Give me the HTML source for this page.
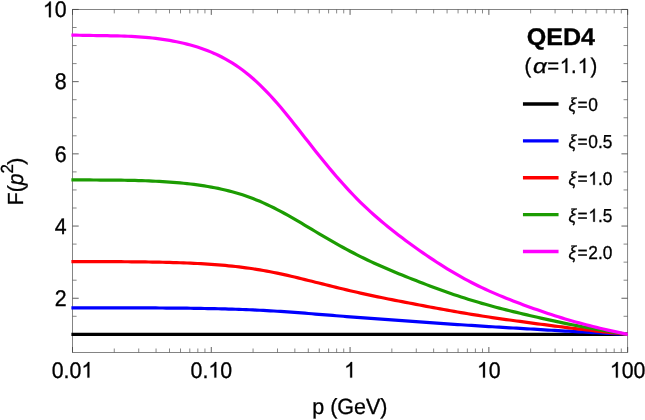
<!DOCTYPE html>
<html><head><meta charset="utf-8"><title>QED4</title>
<style>
html,body{margin:0;padding:0;background:#fff;}
body{width:645px;height:420px;overflow:hidden;font-family:"Liberation Sans",sans-serif;}
.M{stroke:#444;stroke-width:0.85}
svg{display:block;text-rendering:geometricPrecision;font-family:"Liberation Sans",sans-serif;}
</style></head><body>
<svg style="will-change:transform" width="645" height="420" viewBox="0 0 645 420">
<rect width="645" height="420" fill="#fff"/>
<rect x="72.5" y="9.5" width="555.15" height="342.90" fill="none" stroke="#666" stroke-width="0.8"/>
<g fill="none" stroke="#555" stroke-width="0.7">
<path class="M" d="M72.50,352.4 v-5.4 M72.50,9.5 v5.4"/>
<path d="M114.28,352.4 v-3.9 M114.28,9.5 v3.9"/>
<path d="M138.72,352.4 v-3.9 M138.72,9.5 v3.9"/>
<path d="M156.06,352.4 v-3.9 M156.06,9.5 v3.9"/>
<path d="M169.51,352.4 v-3.9 M169.51,9.5 v3.9"/>
<path d="M180.50,352.4 v-3.9 M180.50,9.5 v3.9"/>
<path d="M189.79,352.4 v-3.9 M189.79,9.5 v3.9"/>
<path d="M197.84,352.4 v-3.9 M197.84,9.5 v3.9"/>
<path d="M204.94,352.4 v-3.9 M204.94,9.5 v3.9"/>
<path class="M" d="M211.29,352.4 v-5.4 M211.29,9.5 v5.4"/>
<path d="M253.07,352.4 v-3.9 M253.07,9.5 v3.9"/>
<path d="M277.51,352.4 v-3.9 M277.51,9.5 v3.9"/>
<path d="M294.85,352.4 v-3.9 M294.85,9.5 v3.9"/>
<path d="M308.30,352.4 v-3.9 M308.30,9.5 v3.9"/>
<path d="M319.29,352.4 v-3.9 M319.29,9.5 v3.9"/>
<path d="M328.58,352.4 v-3.9 M328.58,9.5 v3.9"/>
<path d="M336.63,352.4 v-3.9 M336.63,9.5 v3.9"/>
<path d="M343.72,352.4 v-3.9 M343.72,9.5 v3.9"/>
<path class="M" d="M350.07,352.4 v-5.4 M350.07,9.5 v5.4"/>
<path d="M391.85,352.4 v-3.9 M391.85,9.5 v3.9"/>
<path d="M416.29,352.4 v-3.9 M416.29,9.5 v3.9"/>
<path d="M433.63,352.4 v-3.9 M433.63,9.5 v3.9"/>
<path d="M447.08,352.4 v-3.9 M447.08,9.5 v3.9"/>
<path d="M458.07,352.4 v-3.9 M458.07,9.5 v3.9"/>
<path d="M467.36,352.4 v-3.9 M467.36,9.5 v3.9"/>
<path d="M475.41,352.4 v-3.9 M475.41,9.5 v3.9"/>
<path d="M482.51,352.4 v-3.9 M482.51,9.5 v3.9"/>
<path class="M" d="M488.86,352.4 v-5.4 M488.86,9.5 v5.4"/>
<path d="M530.64,352.4 v-3.9 M530.64,9.5 v3.9"/>
<path d="M555.08,352.4 v-3.9 M555.08,9.5 v3.9"/>
<path d="M572.42,352.4 v-3.9 M572.42,9.5 v3.9"/>
<path d="M585.87,352.4 v-3.9 M585.87,9.5 v3.9"/>
<path d="M596.86,352.4 v-3.9 M596.86,9.5 v3.9"/>
<path d="M606.15,352.4 v-3.9 M606.15,9.5 v3.9"/>
<path d="M614.20,352.4 v-3.9 M614.20,9.5 v3.9"/>
<path d="M621.30,352.4 v-3.9 M621.30,9.5 v3.9"/>
<path class="M" d="M627.65,352.4 v-5.4 M627.65,9.5 v5.4"/>
<path d="M72.5,334.35 h4.1 M627.65,334.35 h-4.1"/>
<path d="M72.5,316.30 h4.1 M627.65,316.30 h-4.1"/>
<path class="M" d="M72.5,298.25 h6.2 M627.65,298.25 h-6.2"/>
<path d="M72.5,280.20 h4.1 M627.65,280.20 h-4.1"/>
<path d="M72.5,262.15 h4.1 M627.65,262.15 h-4.1"/>
<path d="M72.5,244.10 h4.1 M627.65,244.10 h-4.1"/>
<path class="M" d="M72.5,226.05 h6.2 M627.65,226.05 h-6.2"/>
<path d="M72.5,208.00 h4.1 M627.65,208.00 h-4.1"/>
<path d="M72.5,189.95 h4.1 M627.65,189.95 h-4.1"/>
<path d="M72.5,171.90 h4.1 M627.65,171.90 h-4.1"/>
<path class="M" d="M72.5,153.85 h6.2 M627.65,153.85 h-6.2"/>
<path d="M72.5,135.80 h4.1 M627.65,135.80 h-4.1"/>
<path d="M72.5,117.75 h4.1 M627.65,117.75 h-4.1"/>
<path d="M72.5,99.70 h4.1 M627.65,99.70 h-4.1"/>
<path class="M" d="M72.5,81.65 h6.2 M627.65,81.65 h-6.2"/>
<path d="M72.5,63.60 h4.1 M627.65,63.60 h-4.1"/>
<path d="M72.5,45.55 h4.1 M627.65,45.55 h-4.1"/>
<path d="M72.5,27.50 h4.1 M627.65,27.50 h-4.1"/>
<path class="M" d="M72.5,9.45 h6.2 M627.65,9.45 h-6.2"/>
</g>
<g fill="none" stroke-width="3.2" stroke-linecap="butt" stroke-linejoin="round">
<path d="M71.40,334.35 L72.50,334.35 L75.97,334.35 L79.44,334.35 L82.91,334.35 L86.38,334.35 L89.85,334.35 L93.32,334.35 L96.79,334.35 L100.26,334.35 L103.73,334.35 L107.20,334.35 L110.67,334.35 L114.14,334.35 L117.61,334.35 L121.08,334.35 L124.55,334.35 L128.01,334.35 L131.48,334.35 L134.95,334.35 L138.42,334.35 L141.89,334.35 L145.36,334.35 L148.83,334.35 L152.30,334.35 L155.77,334.35 L159.24,334.35 L162.71,334.35 L166.18,334.35 L169.65,334.35 L173.12,334.35 L176.59,334.35 L180.06,334.35 L183.53,334.35 L187.00,334.35 L190.47,334.35 L193.94,334.35 L197.41,334.35 L200.88,334.35 L204.35,334.35 L207.82,334.35 L211.29,334.35 L214.76,334.35 L218.23,334.35 L221.70,334.35 L225.17,334.35 L228.64,334.35 L232.11,334.35 L235.58,334.35 L239.05,334.35 L242.51,334.35 L245.98,334.35 L249.45,334.35 L252.92,334.35 L256.39,334.35 L259.86,334.35 L263.33,334.35 L266.80,334.35 L270.27,334.35 L273.74,334.35 L277.21,334.35 L280.68,334.35 L284.15,334.35 L287.62,334.35 L291.09,334.35 L294.56,334.35 L298.03,334.35 L301.50,334.35 L304.97,334.35 L308.44,334.35 L311.91,334.35 L315.38,334.35 L318.85,334.35 L322.32,334.35 L325.79,334.35 L329.26,334.35 L332.73,334.35 L336.20,334.35 L339.67,334.35 L343.14,334.35 L346.61,334.35 L350.07,334.35 L353.54,334.35 L357.01,334.35 L360.48,334.35 L363.95,334.35 L367.42,334.35 L370.89,334.35 L374.36,334.35 L377.83,334.35 L381.30,334.35 L384.77,334.35 L388.24,334.35 L391.71,334.35 L395.18,334.35 L398.65,334.35 L402.12,334.35 L405.59,334.35 L409.06,334.35 L412.53,334.35 L416.00,334.35 L419.47,334.35 L422.94,334.35 L426.41,334.35 L429.88,334.35 L433.35,334.35 L436.82,334.35 L440.29,334.35 L443.76,334.35 L447.23,334.35 L450.70,334.35 L454.17,334.35 L457.64,334.35 L461.11,334.35 L464.57,334.35 L468.04,334.35 L471.51,334.35 L474.98,334.35 L478.45,334.35 L481.92,334.35 L485.39,334.35 L488.86,334.35 L492.33,334.35 L495.80,334.35 L499.27,334.35 L502.74,334.35 L506.21,334.35 L509.68,334.35 L513.15,334.35 L516.62,334.35 L520.09,334.35 L523.56,334.35 L527.03,334.35 L530.50,334.35 L533.97,334.35 L537.44,334.35 L540.91,334.35 L544.38,334.35 L547.85,334.35 L551.32,334.35 L554.79,334.35 L558.26,334.35 L561.73,334.35 L565.20,334.35 L568.67,334.35 L572.13,334.35 L575.60,334.35 L579.07,334.35 L582.54,334.35 L586.01,334.35 L589.48,334.35 L592.95,334.35 L596.42,334.35 L599.89,334.35 L603.36,334.35 L606.83,334.35 L610.30,334.35 L613.77,334.35 L617.24,334.35 L620.71,334.35 L624.18,334.35 L627.65,334.35 L627.75,334.35" stroke="#000000"/>
<path d="M71.40,307.80 L72.50,307.80 L75.97,307.81 L79.44,307.81 L82.91,307.81 L86.38,307.82 L89.85,307.82 L93.32,307.82 L96.79,307.83 L100.26,307.83 L103.73,307.83 L107.20,307.83 L110.67,307.84 L114.14,307.84 L117.61,307.84 L121.08,307.85 L124.55,307.85 L128.01,307.86 L131.48,307.87 L134.95,307.87 L138.42,307.88 L141.89,307.90 L145.36,307.91 L148.83,307.92 L152.30,307.94 L155.77,307.96 L159.24,307.98 L162.71,308.00 L166.18,308.03 L169.65,308.05 L173.12,308.08 L176.59,308.11 L180.06,308.15 L183.53,308.18 L187.00,308.22 L190.47,308.27 L193.94,308.31 L197.41,308.36 L200.88,308.42 L204.35,308.48 L207.82,308.54 L211.29,308.61 L214.76,308.68 L218.23,308.76 L221.70,308.84 L225.17,308.93 L228.64,309.03 L232.11,309.13 L235.58,309.24 L239.05,309.36 L242.51,309.48 L245.98,309.62 L249.45,309.76 L252.92,309.91 L256.39,310.07 L259.86,310.24 L263.33,310.42 L266.80,310.61 L270.27,310.81 L273.74,311.01 L277.21,311.23 L280.68,311.45 L284.15,311.68 L287.62,311.92 L291.09,312.17 L294.56,312.42 L298.03,312.68 L301.50,312.94 L304.97,313.21 L308.44,313.48 L311.91,313.76 L315.38,314.03 L318.85,314.31 L322.32,314.59 L325.79,314.87 L329.26,315.15 L332.73,315.44 L336.20,315.72 L339.67,316.00 L343.14,316.27 L346.61,316.55 L350.07,316.82 L353.54,317.10 L357.01,317.37 L360.48,317.63 L363.95,317.90 L367.42,318.16 L370.89,318.41 L374.36,318.67 L377.83,318.92 L381.30,319.17 L384.77,319.42 L388.24,319.67 L391.71,319.92 L395.18,320.16 L398.65,320.41 L402.12,320.65 L405.59,320.89 L409.06,321.14 L412.53,321.38 L416.00,321.62 L419.47,321.87 L422.94,322.11 L426.41,322.35 L429.88,322.60 L433.35,322.84 L436.82,323.09 L440.29,323.33 L443.76,323.58 L447.23,323.82 L450.70,324.06 L454.17,324.30 L457.64,324.53 L461.11,324.77 L464.57,325.00 L468.04,325.23 L471.51,325.45 L474.98,325.68 L478.45,325.90 L481.92,326.12 L485.39,326.34 L488.86,326.55 L492.33,326.77 L495.80,326.98 L499.27,327.18 L502.74,327.39 L506.21,327.60 L509.68,327.80 L513.15,328.00 L516.62,328.20 L520.09,328.41 L523.56,328.61 L527.03,328.81 L530.50,329.01 L533.97,329.21 L537.44,329.42 L540.91,329.62 L544.38,329.82 L547.85,330.03 L551.32,330.23 L554.79,330.43 L558.26,330.63 L561.73,330.83 L565.20,331.03 L568.67,331.22 L572.13,331.42 L575.60,331.61 L579.07,331.80 L582.54,331.99 L586.01,332.18 L589.48,332.37 L592.95,332.55 L596.42,332.74 L599.89,332.92 L603.36,333.10 L606.83,333.28 L610.30,333.46 L613.77,333.64 L617.24,333.82 L620.71,334.00 L624.18,334.17 L627.65,334.35 L627.75,334.35" stroke="#0000ff"/>
<path d="M71.40,261.56 L72.50,261.56 L75.97,261.58 L79.44,261.59 L82.91,261.60 L86.38,261.62 L89.85,261.63 L93.32,261.63 L96.79,261.64 L100.26,261.65 L103.73,261.66 L107.20,261.67 L110.67,261.68 L114.14,261.69 L117.61,261.70 L121.08,261.72 L124.55,261.73 L128.01,261.76 L131.48,261.78 L134.95,261.81 L138.42,261.85 L141.89,261.89 L145.36,261.93 L148.83,261.98 L152.30,262.04 L155.77,262.11 L159.24,262.18 L162.71,262.25 L166.18,262.34 L169.65,262.43 L173.12,262.53 L176.59,262.64 L180.06,262.76 L183.53,262.89 L187.00,263.02 L190.47,263.17 L193.94,263.33 L197.41,263.51 L200.88,263.69 L204.35,263.89 L207.82,264.11 L211.29,264.35 L214.76,264.60 L218.23,264.86 L221.70,265.15 L225.17,265.46 L228.64,265.79 L232.11,266.14 L235.58,266.51 L239.05,266.91 L242.51,267.34 L245.98,267.79 L249.45,268.28 L252.92,268.79 L256.39,269.33 L259.86,269.89 L263.33,270.49 L266.80,271.12 L270.27,271.77 L273.74,272.45 L277.21,273.16 L280.68,273.89 L284.15,274.65 L287.62,275.43 L291.09,276.23 L294.56,277.05 L298.03,277.88 L301.50,278.73 L304.97,279.58 L308.44,280.44 L311.91,281.31 L315.38,282.18 L318.85,283.05 L322.32,283.92 L325.79,284.79 L329.26,285.65 L332.73,286.51 L336.20,287.37 L339.67,288.21 L343.14,289.05 L346.61,289.88 L350.07,290.70 L353.54,291.51 L357.01,292.30 L360.48,293.09 L363.95,293.86 L367.42,294.62 L370.89,295.37 L374.36,296.10 L377.83,296.83 L381.30,297.54 L384.77,298.25 L388.24,298.95 L391.71,299.64 L395.18,300.33 L398.65,301.01 L402.12,301.69 L405.59,302.36 L409.06,303.02 L412.53,303.69 L416.00,304.35 L419.47,305.01 L422.94,305.67 L426.41,306.32 L429.88,306.97 L433.35,307.62 L436.82,308.27 L440.29,308.91 L443.76,309.54 L447.23,310.17 L450.70,310.79 L454.17,311.40 L457.64,312.01 L461.11,312.60 L464.57,313.19 L468.04,313.77 L471.51,314.33 L474.98,314.89 L478.45,315.44 L481.92,315.98 L485.39,316.52 L488.86,317.04 L492.33,317.56 L495.80,318.07 L499.27,318.57 L502.74,319.06 L506.21,319.55 L509.68,320.04 L513.15,320.52 L516.62,320.99 L520.09,321.46 L523.56,321.93 L527.03,322.40 L530.50,322.87 L533.97,323.33 L537.44,323.79 L540.91,324.25 L544.38,324.71 L547.85,325.17 L551.32,325.62 L554.79,326.07 L558.26,326.51 L561.73,326.95 L565.20,327.39 L568.67,327.82 L572.13,328.24 L575.60,328.66 L579.07,329.07 L582.54,329.47 L586.01,329.87 L589.48,330.27 L592.95,330.66 L596.42,331.04 L599.89,331.42 L603.36,331.80 L606.83,332.18 L610.30,332.55 L613.77,332.91 L617.24,333.28 L620.71,333.64 L624.18,334.00 L627.65,334.35 L627.75,334.35" stroke="#ff0000"/>
<path d="M71.40,179.78 L72.50,179.78 L75.97,179.83 L79.44,179.87 L82.91,179.91 L86.38,179.94 L89.85,179.96 L93.32,179.99 L96.79,180.01 L100.26,180.03 L103.73,180.05 L107.20,180.07 L110.67,180.10 L114.14,180.13 L117.61,180.16 L121.08,180.20 L124.55,180.25 L128.01,180.31 L131.48,180.37 L134.95,180.45 L138.42,180.54 L141.89,180.65 L145.36,180.77 L148.83,180.90 L152.30,181.06 L155.77,181.23 L159.24,181.41 L162.71,181.62 L166.18,181.84 L169.65,182.08 L173.12,182.35 L176.59,182.63 L180.06,182.94 L183.53,183.28 L187.00,183.64 L190.47,184.03 L193.94,184.45 L197.41,184.90 L200.88,185.39 L204.35,185.92 L207.82,186.48 L211.29,187.09 L214.76,187.75 L218.23,188.44 L221.70,189.19 L225.17,189.99 L228.64,190.84 L232.11,191.75 L235.58,192.71 L239.05,193.74 L242.51,194.84 L245.98,196.00 L249.45,197.23 L252.92,198.54 L256.39,199.91 L259.86,201.35 L263.33,202.86 L266.80,204.44 L270.27,206.08 L273.74,207.80 L277.21,209.57 L280.68,211.39 L284.15,213.26 L287.62,215.19 L291.09,217.16 L294.56,219.16 L298.03,221.19 L301.50,223.23 L304.97,225.29 L308.44,227.36 L311.91,229.43 L315.38,231.50 L318.85,233.56 L322.32,235.61 L325.79,237.65 L329.26,239.66 L332.73,241.66 L336.20,243.63 L339.67,245.57 L343.14,247.49 L346.61,249.37 L350.07,251.22 L353.54,253.04 L357.01,254.82 L360.48,256.57 L363.95,258.28 L367.42,259.94 L370.89,261.58 L374.36,263.19 L377.83,264.76 L381.30,266.31 L384.77,267.82 L388.24,269.32 L391.71,270.79 L395.18,272.24 L398.65,273.68 L402.12,275.09 L405.59,276.49 L409.06,277.88 L412.53,279.25 L416.00,280.61 L419.47,281.96 L422.94,283.29 L426.41,284.62 L429.88,285.93 L433.35,287.23 L436.82,288.51 L440.29,289.78 L443.76,291.03 L447.23,292.26 L450.70,293.47 L454.17,294.66 L457.64,295.82 L461.11,296.97 L464.57,298.09 L468.04,299.18 L471.51,300.25 L474.98,301.31 L478.45,302.34 L481.92,303.35 L485.39,304.33 L488.86,305.30 L492.33,306.25 L495.80,307.18 L499.27,308.09 L502.74,308.98 L506.21,309.86 L509.68,310.73 L513.15,311.58 L516.62,312.42 L520.09,313.26 L523.56,314.08 L527.03,314.90 L530.50,315.71 L533.97,316.51 L537.44,317.31 L540.91,318.10 L544.38,318.88 L547.85,319.65 L551.32,320.41 L554.79,321.17 L558.26,321.91 L561.73,322.64 L565.20,323.36 L568.67,324.06 L572.13,324.76 L575.60,325.44 L579.07,326.10 L582.54,326.75 L586.01,327.40 L589.48,328.02 L592.95,328.64 L596.42,329.25 L599.89,329.85 L603.36,330.44 L606.83,331.02 L610.30,331.60 L613.77,332.16 L617.24,332.72 L620.71,333.27 L624.18,333.81 L627.65,334.35 L627.75,334.35" stroke="#1c9c02"/>
<path d="M71.40,35.03 L72.50,35.03 L75.97,35.14 L79.44,35.24 L82.91,35.32 L86.38,35.39 L89.85,35.45 L93.32,35.51 L96.79,35.56 L100.26,35.61 L103.73,35.66 L107.20,35.72 L110.67,35.78 L114.14,35.85 L117.61,35.93 L121.08,36.02 L124.55,36.13 L128.01,36.26 L131.48,36.42 L134.95,36.60 L138.42,36.82 L141.89,37.06 L145.36,37.35 L148.83,37.67 L152.30,38.03 L155.77,38.43 L159.24,38.87 L162.71,39.35 L166.18,39.87 L169.65,40.44 L173.12,41.06 L176.59,41.73 L180.06,42.46 L183.53,43.24 L187.00,44.08 L190.47,44.99 L193.94,45.98 L197.41,47.04 L200.88,48.17 L204.35,49.40 L207.82,50.73 L211.29,52.14 L214.76,53.66 L218.23,55.28 L221.70,57.01 L225.17,58.86 L228.64,60.83 L232.11,62.92 L235.58,65.14 L239.05,67.51 L242.51,70.02 L245.98,72.68 L249.45,75.50 L252.92,78.46 L256.39,81.58 L259.86,84.85 L263.33,88.27 L266.80,91.82 L270.27,95.51 L273.74,99.33 L277.21,103.29 L280.68,107.32 L284.15,111.47 L287.62,115.72 L291.09,120.03 L294.56,124.40 L298.03,128.81 L301.50,133.23 L304.97,137.67 L308.44,142.10 L311.91,146.51 L315.38,150.90 L318.85,155.25 L322.32,159.56 L325.79,163.81 L329.26,168.00 L332.73,172.13 L336.20,176.18 L339.67,180.16 L343.14,184.05 L346.61,187.87 L350.07,191.60 L353.54,195.24 L357.01,198.79 L360.48,202.26 L363.95,205.63 L367.42,208.90 L370.89,212.11 L374.36,215.22 L377.83,218.26 L381.30,221.24 L384.77,224.14 L388.24,226.99 L391.71,229.78 L395.18,232.52 L398.65,235.21 L402.12,237.85 L405.59,240.45 L409.06,243.01 L412.53,245.54 L416.00,248.03 L419.47,250.48 L422.94,252.90 L426.41,255.28 L429.88,257.64 L433.35,259.95 L436.82,262.23 L440.29,264.46 L443.76,266.66 L447.23,268.81 L450.70,270.91 L454.17,272.96 L457.64,274.97 L461.11,276.92 L464.57,278.83 L468.04,280.68 L471.51,282.48 L474.98,284.25 L478.45,285.96 L481.92,287.63 L485.39,289.26 L488.86,290.85 L492.33,292.39 L495.80,293.90 L499.27,295.37 L502.74,296.81 L506.21,298.22 L509.68,299.60 L513.15,300.95 L516.62,302.28 L520.09,303.59 L523.56,304.88 L527.03,306.15 L530.50,307.40 L533.97,308.64 L537.44,309.85 L540.91,311.06 L544.38,312.24 L547.85,313.41 L551.32,314.55 L554.79,315.67 L558.26,316.78 L561.73,317.85 L565.20,318.91 L568.67,319.94 L572.13,320.95 L575.60,321.93 L579.07,322.89 L582.54,323.83 L586.01,324.74 L589.48,325.64 L592.95,326.51 L596.42,327.36 L599.89,328.20 L603.36,329.02 L606.83,329.82 L610.30,330.61 L613.77,331.39 L617.24,332.15 L620.71,332.90 L624.18,333.63 L627.65,334.35 L627.75,334.35" stroke="#ff00ff"/>
</g>
<g font-size="21.35" fill="#000">
<g transform="translate(72.50,377.60) scale(1,1.06)" font-size="21.35" stroke="#000" stroke-width="0.3"><text x="-20.77" y="0">0.0</text><path transform="translate(8.90,0) scale(0.01042,-0.00998)" stroke-width="28.8" d="M763,0 L583,0 L583,1147 Q518,1085 412.5,1023 T223,930 L223,1104 Q372,1174 483.5,1273.5 T647,1472 L763,1472 Z"/></g>
<g transform="translate(211.29,377.60) scale(1,1.06)" font-size="21.35" stroke="#000" stroke-width="0.3"><text x="-20.77" y="0">0.</text><path transform="translate(-2.97,0) scale(0.01042,-0.00998)" stroke-width="28.8" d="M763,0 L583,0 L583,1147 Q518,1085 412.5,1023 T223,930 L223,1104 Q372,1174 483.5,1273.5 T647,1472 L763,1472 Z"/><text x="8.90" y="0">0</text></g>
<g transform="translate(350.07,377.60) scale(1,1.06)" font-size="21.35" stroke="#000" stroke-width="0.3"><path transform="translate(-5.94,0) scale(0.01042,-0.00998)" stroke-width="28.8" d="M763,0 L583,0 L583,1147 Q518,1085 412.5,1023 T223,930 L223,1104 Q372,1174 483.5,1273.5 T647,1472 L763,1472 Z"/></g>
<g transform="translate(488.86,377.60) scale(1,1.06)" font-size="21.35" stroke="#000" stroke-width="0.3"><path transform="translate(-11.87,0) scale(0.01042,-0.00998)" stroke-width="28.8" d="M763,0 L583,0 L583,1147 Q518,1085 412.5,1023 T223,930 L223,1104 Q372,1174 483.5,1273.5 T647,1472 L763,1472 Z"/><text x="0.00" y="0">0</text></g>
<g transform="translate(627.65,377.60) scale(1,1.06)" font-size="21.35" stroke="#000" stroke-width="0.3"><path transform="translate(-17.81,0) scale(0.01042,-0.00998)" stroke-width="28.8" d="M763,0 L583,0 L583,1147 Q518,1085 412.5,1023 T223,930 L223,1104 Q372,1174 483.5,1273.5 T647,1472 L763,1472 Z"/><text x="-5.94" y="0">00</text></g>
<g transform="translate(66.60,305.95) scale(1,1.06)" font-size="21.35" stroke="#000" stroke-width="0.3"><text x="-11.87" y="0">2</text></g>
<g transform="translate(66.60,233.75) scale(1,1.06)" font-size="21.35" stroke="#000" stroke-width="0.3"><text x="-11.87" y="0">4</text></g>
<g transform="translate(66.60,161.55) scale(1,1.06)" font-size="21.35" stroke="#000" stroke-width="0.3"><text x="-11.87" y="0">6</text></g>
<g transform="translate(66.60,89.35) scale(1,1.06)" font-size="21.35" stroke="#000" stroke-width="0.3"><text x="-11.87" y="0">8</text></g>
<g transform="translate(66.60,17.15) scale(1,1.06)" font-size="21.35" stroke="#000" stroke-width="0.3"><path transform="translate(-23.74,0) scale(0.01042,-0.00998)" stroke-width="28.8" d="M763,0 L583,0 L583,1147 Q518,1085 412.5,1023 T223,930 L223,1104 Q372,1174 483.5,1273.5 T647,1472 L763,1472 Z"/><text x="-11.87" y="0">0</text></g>

<text transform="translate(349.90,414.20) scale(1,1.025)" font-size="21.5" text-anchor="middle" stroke="#000" stroke-width="0.3">p (GeV)</text>

<text transform="translate(22.6,205.3) rotate(-90) scale(1,1.03)" text-anchor="start" font-size="21.2" stroke="#000" stroke-width="0.3">F(<tspan font-style="italic">p</tspan><tspan font-size="17" dy="-9.7">2</tspan><tspan dy="9.7" dx="-0.7">)</tspan></text>
</g>
<text transform="translate(560.80,44.90) scale(1.046,1)" font-size="24" text-anchor="middle" stroke="#000" stroke-width="0.3" font-weight="bold">QED4</text>

<text transform="translate(0.00,72.90) scale(1,1.05)" font-size="20.3" text-anchor="start" stroke="#000" stroke-width="0.3"><tspan x="524.59">(</tspan><tspan x="547.16">=</tspan><tspan x="571.1">.</tspan><tspan x="590.58">)</tspan></text>
<g transform="translate(559.75,72.90) scale(1,1.05)" font-size="20.3" stroke="#000" stroke-width="0.3"><path transform="translate(0.00,0) scale(0.00991,-0.00949)" stroke-width="30.3" d="M763,0 L583,0 L583,1147 Q518,1085 412.5,1023 T223,930 L223,1104 Q372,1174 483.5,1273.5 T647,1472 L763,1472 Z"/></g>
<g transform="translate(577.70,72.90) scale(1,1.05)" font-size="20.3" stroke="#000" stroke-width="0.3"><path transform="translate(0.00,0) scale(0.00991,-0.00949)" stroke-width="30.3" d="M763,0 L583,0 L583,1147 Q518,1085 412.5,1023 T223,930 L223,1104 Q372,1174 483.5,1273.5 T647,1472 L763,1472 Z"/></g>
<text transform="translate(533.00,72.90) scale(1.2,1.0)" font-size="20.3" text-anchor="start" stroke="#000" stroke-width="0.3" font-style="italic">α</text>

<g fill="#000">
<path d="M522.95,104.05 H558.55" stroke="#000000" stroke-width="3.4" fill="none"/>
<text transform="translate(568.60,111.05) scale(1,1.085)" font-size="17.3" text-anchor="start" stroke="#000" stroke-width="0.3"><tspan font-style="italic">ξ</tspan><tspan dx="1.2">=</tspan></text>
<g transform="translate(588.34,111.05) scale(1,1.085)" font-size="17.3" stroke="#000" stroke-width="0.3"><text x="0.00" y="0">0</text></g>
<path d="M522.95,140.9 H558.55" stroke="#0000ff" stroke-width="3.4" fill="none"/>
<text transform="translate(568.60,147.90) scale(1,1.085)" font-size="17.3" text-anchor="start" stroke="#000" stroke-width="0.3"><tspan font-style="italic">ξ</tspan><tspan dx="1.2">=</tspan></text>
<g transform="translate(588.34,147.90) scale(1,1.085)" font-size="17.3" stroke="#000" stroke-width="0.3"><text x="0.00" y="0">0.5</text></g>
<path d="M522.95,177.77 H558.55" stroke="#ff0000" stroke-width="3.4" fill="none"/>
<text transform="translate(568.60,184.77) scale(1,1.085)" font-size="17.3" text-anchor="start" stroke="#000" stroke-width="0.3"><tspan font-style="italic">ξ</tspan><tspan dx="1.2">=</tspan></text>
<g transform="translate(588.34,184.77) scale(1,1.085)" font-size="17.3" stroke="#000" stroke-width="0.3"><path transform="translate(0.00,0) scale(0.00845,-0.00808)" stroke-width="35.5" d="M763,0 L583,0 L583,1147 Q518,1085 412.5,1023 T223,930 L223,1104 Q372,1174 483.5,1273.5 T647,1472 L763,1472 Z"/><text x="9.62" y="0">.0</text></g>
<path d="M522.95,214.65 H558.55" stroke="#1c9c02" stroke-width="3.4" fill="none"/>
<text transform="translate(568.60,221.65) scale(1,1.085)" font-size="17.3" text-anchor="start" stroke="#000" stroke-width="0.3"><tspan font-style="italic">ξ</tspan><tspan dx="1.2">=</tspan></text>
<g transform="translate(588.34,221.65) scale(1,1.085)" font-size="17.3" stroke="#000" stroke-width="0.3"><path transform="translate(0.00,0) scale(0.00845,-0.00808)" stroke-width="35.5" d="M763,0 L583,0 L583,1147 Q518,1085 412.5,1023 T223,930 L223,1104 Q372,1174 483.5,1273.5 T647,1472 L763,1472 Z"/><text x="9.62" y="0">.5</text></g>
<path d="M522.95,251.5 H558.55" stroke="#ff00ff" stroke-width="3.4" fill="none"/>
<text transform="translate(568.60,258.50) scale(1,1.085)" font-size="17.3" text-anchor="start" stroke="#000" stroke-width="0.3"><tspan font-style="italic">ξ</tspan><tspan dx="1.2">=</tspan></text>
<g transform="translate(588.34,258.50) scale(1,1.085)" font-size="17.3" stroke="#000" stroke-width="0.3"><text x="0.00" y="0">2.0</text></g>
</g>
</svg>
</body></html>
